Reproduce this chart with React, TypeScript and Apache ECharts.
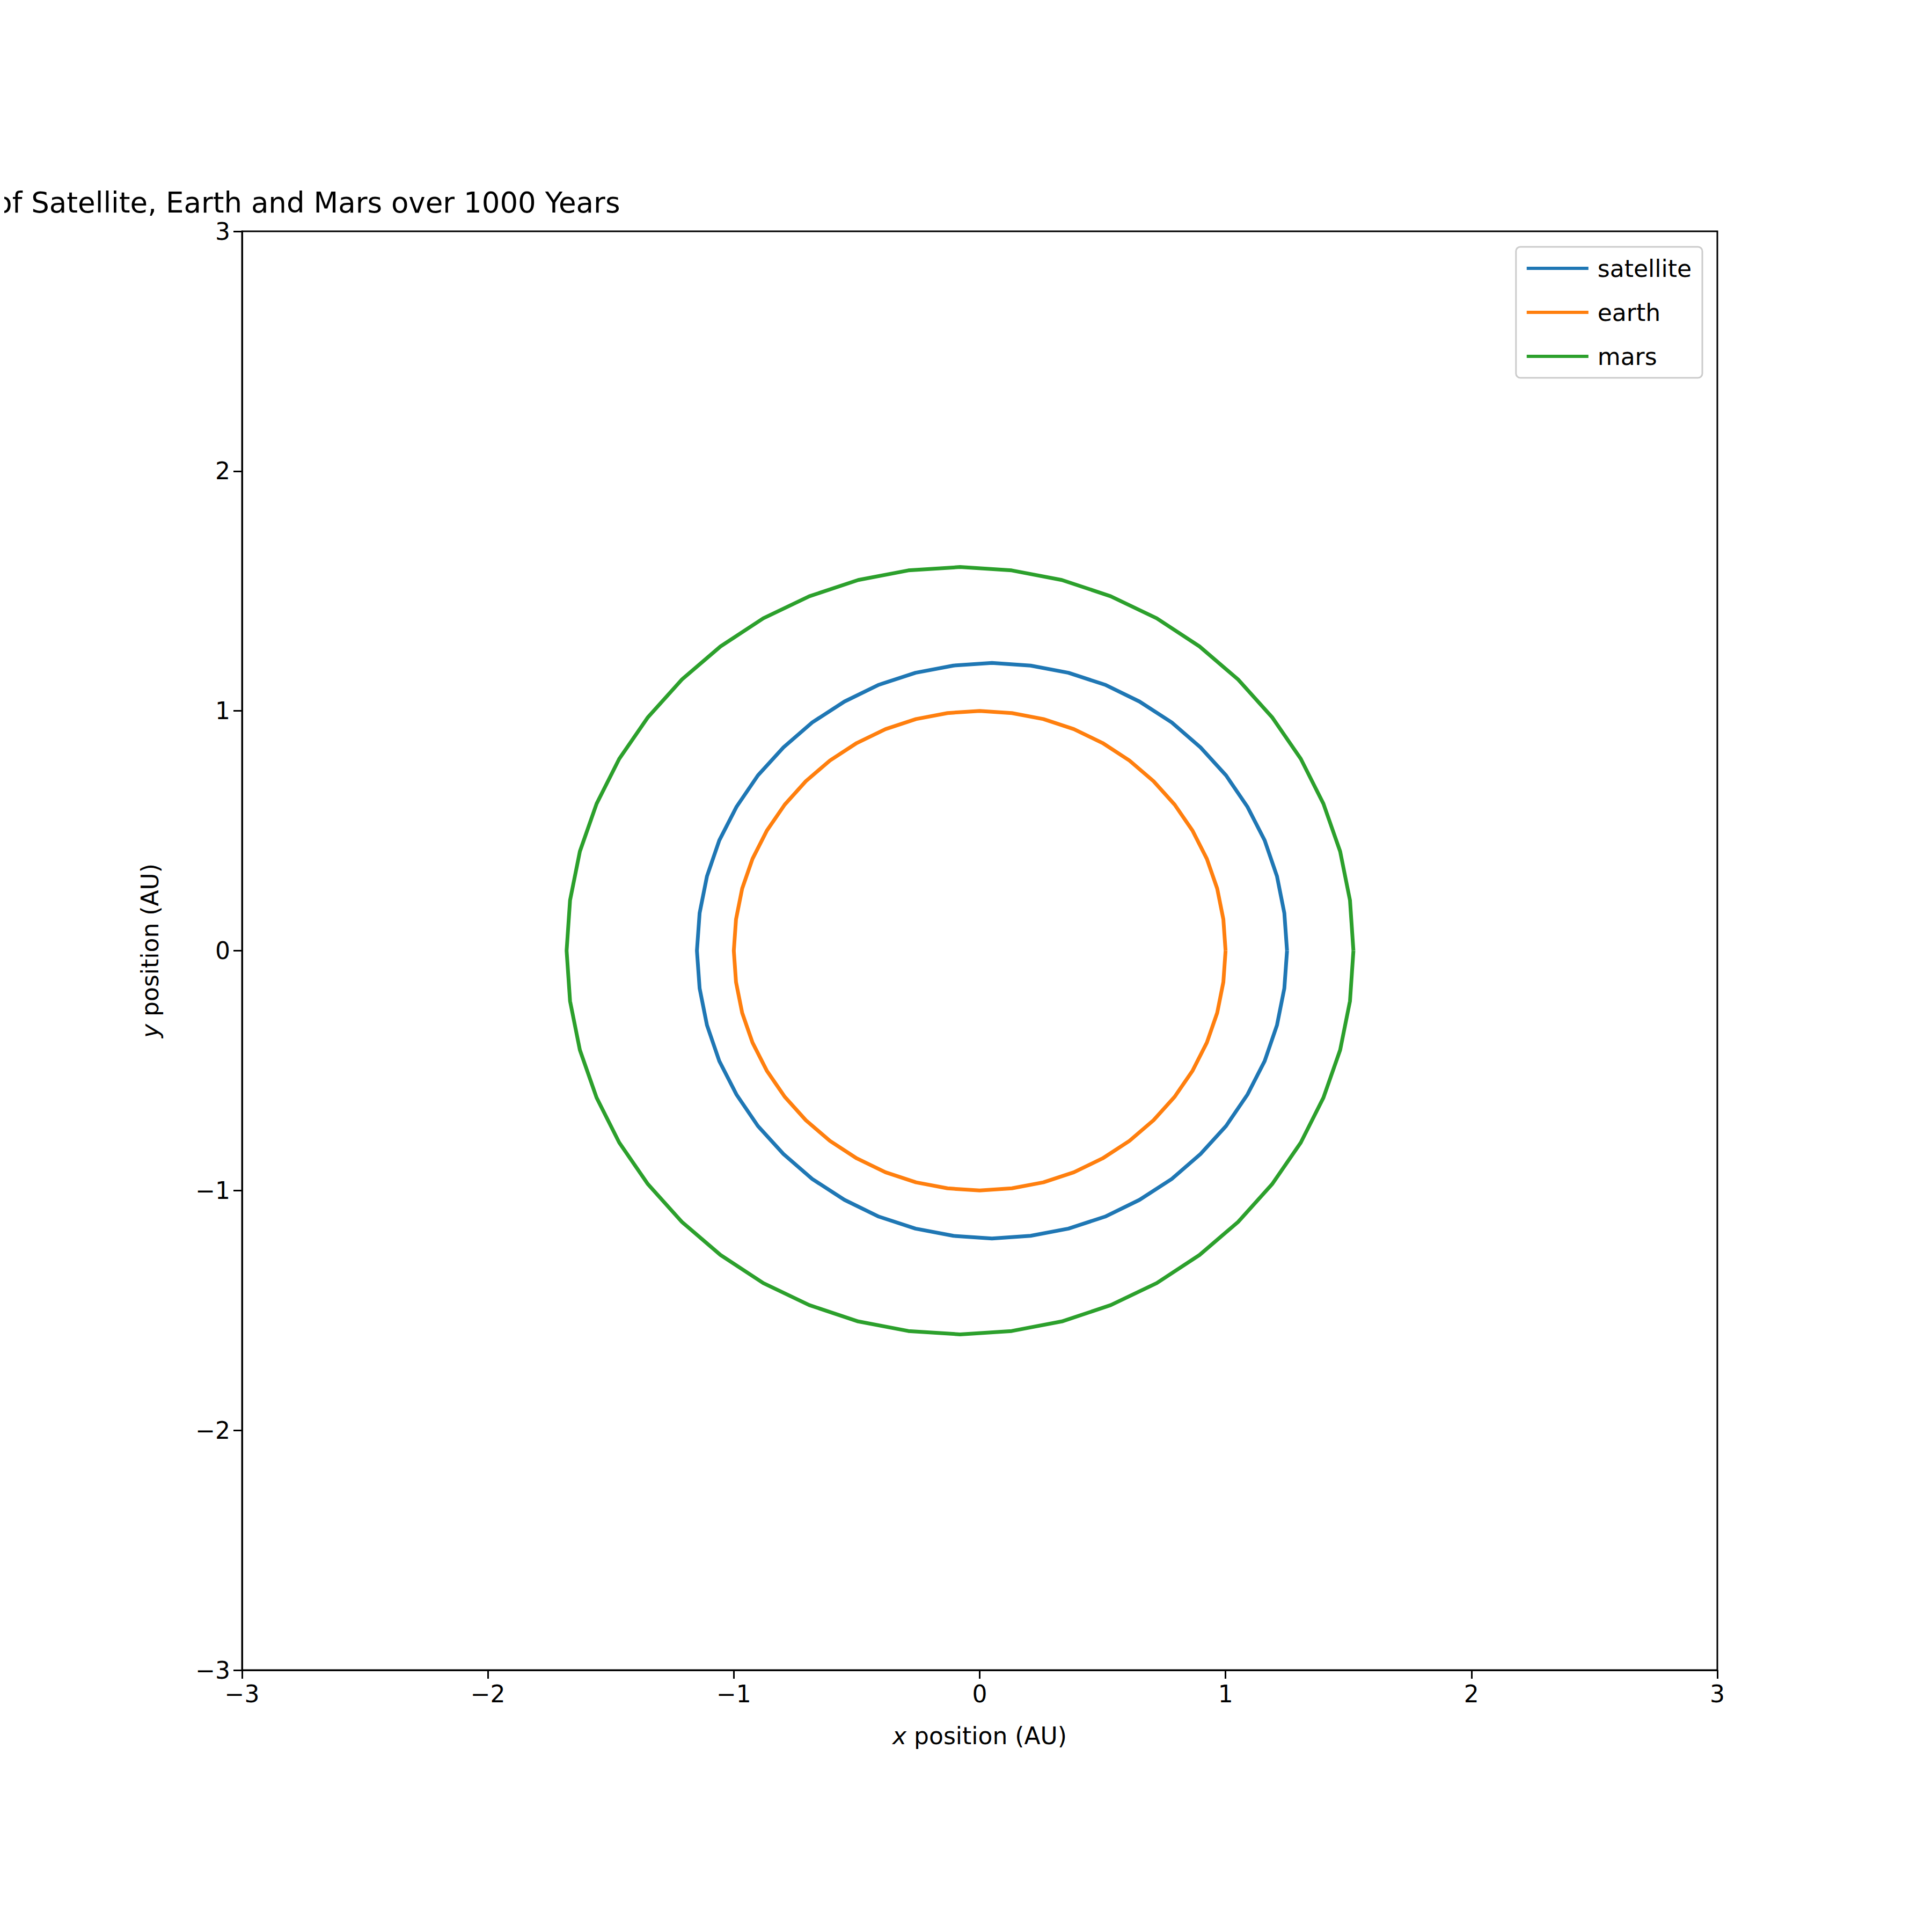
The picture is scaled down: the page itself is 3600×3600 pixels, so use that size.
import { useEffect, useRef } from 'react'
import * as echarts from 'echarts'

const seriesNames = ['satellite', 'earth', 'mars']
const colors = ['#1f77b4', '#ff7f0e', '#2ca02c']

const satelliteX = [1.25, 1.239, 1.209, 1.159, 1.089, 1.002, 0.898, 0.781, 0.65, 0.51, 0.361, 0.207, 0.05, -0.107, -0.261, -0.41, -0.55, -0.681, -0.798, -0.902, -0.989, -1.059, -1.109, -1.139, -1.15, -1.139, -1.109, -1.059, -0.989, -0.902, -0.798, -0.681, -0.55, -0.41, -0.261, -0.107, 0.05, 0.207, 0.361, 0.51, 0.65, 0.781, 0.898, 1.002, 1.089, 1.159, 1.209, 1.239, 1.25]
const satelliteY = [0, 0.157, 0.311, 0.46, 0.6, 0.731, 0.848, 0.952, 1.039, 1.109, 1.159, 1.189, 1.2, 1.189, 1.159, 1.109, 1.039, 0.952, 0.848, 0.731, 0.6, 0.46, 0.311, 0.157, 0, -0.157, -0.311, -0.46, -0.6, -0.731, -0.848, -0.952, -1.039, -1.109, -1.159, -1.189, -1.2, -1.189, -1.159, -1.109, -1.039, -0.952, -0.848, -0.731, -0.6, -0.46, -0.311, -0.157, 0]
const earthX = [1, 0.991, 0.966, 0.924, 0.866, 0.793, 0.707, 0.609, 0.5, 0.383, 0.259, 0.131, 0, -0.131, -0.259, -0.383, -0.5, -0.609, -0.707, -0.793, -0.866, -0.924, -0.966, -0.991, -1, -0.991, -0.966, -0.924, -0.866, -0.793, -0.707, -0.609, -0.5, -0.383, -0.259, -0.131, 0, 0.131, 0.259, 0.383, 0.5, 0.609, 0.707, 0.793, 0.866, 0.924, 0.966, 0.991, 1]
const earthY = [0, 0.131, 0.259, 0.383, 0.5, 0.609, 0.707, 0.793, 0.866, 0.924, 0.966, 0.991, 1, 0.991, 0.966, 0.924, 0.866, 0.793, 0.707, 0.609, 0.5, 0.383, 0.259, 0.131, 0, -0.131, -0.259, -0.383, -0.5, -0.609, -0.707, -0.793, -0.866, -0.924, -0.966, -0.991, -1, -0.991, -0.966, -0.924, -0.866, -0.793, -0.707, -0.609, -0.5, -0.383, -0.259, -0.131, 0]
const marsX = [1.52, 1.506, 1.466, 1.398, 1.306, 1.189, 1.051, 0.894, 0.72, 0.533, 0.334, 0.13, -0.08, -0.29, -0.494, -0.693, -0.88, -1.054, -1.211, -1.349, -1.466, -1.558, -1.626, -1.666, -1.68, -1.666, -1.626, -1.558, -1.466, -1.349, -1.211, -1.054, -0.88, -0.693, -0.494, -0.29, -0.08, 0.13, 0.334, 0.533, 0.72, 0.894, 1.051, 1.189, 1.306, 1.398, 1.466, 1.506, 1.52]
const marsY = [0, 0.21, 0.414, 0.613, 0.8, 0.974, 1.131, 1.269, 1.386, 1.478, 1.546, 1.586, 1.6, 1.586, 1.546, 1.478, 1.386, 1.269, 1.131, 0.974, 0.8, 0.613, 0.414, 0.21, 0, -0.21, -0.414, -0.613, -0.8, -0.974, -1.131, -1.269, -1.386, -1.478, -1.546, -1.586, -1.6, -1.586, -1.546, -1.478, -1.386, -1.269, -1.131, -0.974, -0.8, -0.613, -0.414, -0.21, 0]

const orbits = [
  [satelliteX, satelliteY],
  [earthX, earthY],
  [marsX, marsY],
]

const font = 'DejaVu Sans'
const minus = (v: number) => String(v).replace('-', '\u2212')

export default function App() {
  const chartRef = useRef<HTMLDivElement>(null)

  useEffect(() => {
    if (!chartRef.current) return
    const chart = echarts.init(chartRef.current, null, { renderer: 'svg' })

    const axisCommon = {
      type: 'value' as const,
      min: -3,
      max: 3,
      interval: 1,
      splitLine: { show: false },
      axisLine: { show: true, onZero: false, lineStyle: { color: '#000', width: 3 } },
      axisTick: { show: true, length: 16, lineStyle: { color: '#000', width: 3 } },
      axisLabel: { color: '#000', fontSize: 44, fontFamily: font, margin: 22, formatter: minus },
      nameLocation: 'middle' as const,
      nameTextStyle: {
        color: '#000',
        fontSize: 44,
        fontFamily: font,
        rich: { i: { fontStyle: 'italic', fontSize: 44, fontFamily: font, color: '#000' } },
      },
    }

    chart.setOption({
      animation: false,
      backgroundColor: '#fff',
      title: {
        text: 'Stability of Satellite, Earth and Mars over 1000 Years',
        left: 443,
        right: 408,
        textAlign: 'center',
        top: 338,
        textStyle: { color: '#000', fontSize: 53, fontWeight: 'normal', fontFamily: font },
      },
      grid: {
        left: 443,
        right: 408,
        top: 423,
        bottom: 496,
        show: true,
        borderColor: '#000',
        borderWidth: 3,
      },
      legend: {
        orient: 'vertical',
        right: 436,
        top: 452,
        padding: [18, 20, 18, 20],
        borderColor: '#ccc',
        borderWidth: 3,
        borderRadius: 8,
        itemGap: 38,
        itemWidth: 115,
        itemHeight: 6,
        icon: 'rect',
        textStyle: { color: '#000', fontSize: 44, fontFamily: font, padding: [0, 0, 0, 12] },
        data: seriesNames,
      },
      xAxis: { ...axisCommon, name: '{i|x} position (AU)', nameGap: 100 },
      yAxis: { ...axisCommon, name: '{i|y} position (AU)', nameGap: 150 },
      series: orbits.map(([xs, ys], i) => ({
        type: 'line',
        name: seriesNames[i],
        data: xs.map((x, j) => [x, ys[j]]),
        showSymbol: false,
        symbol: 'none',
        color: colors[i],
        lineStyle: { width: 7, color: colors[i] },
      })),
    })

    return () => chart.dispose()
  }, [])

  return <div ref={chartRef} style={{ width: 3600, height: 3600 }} />
}
